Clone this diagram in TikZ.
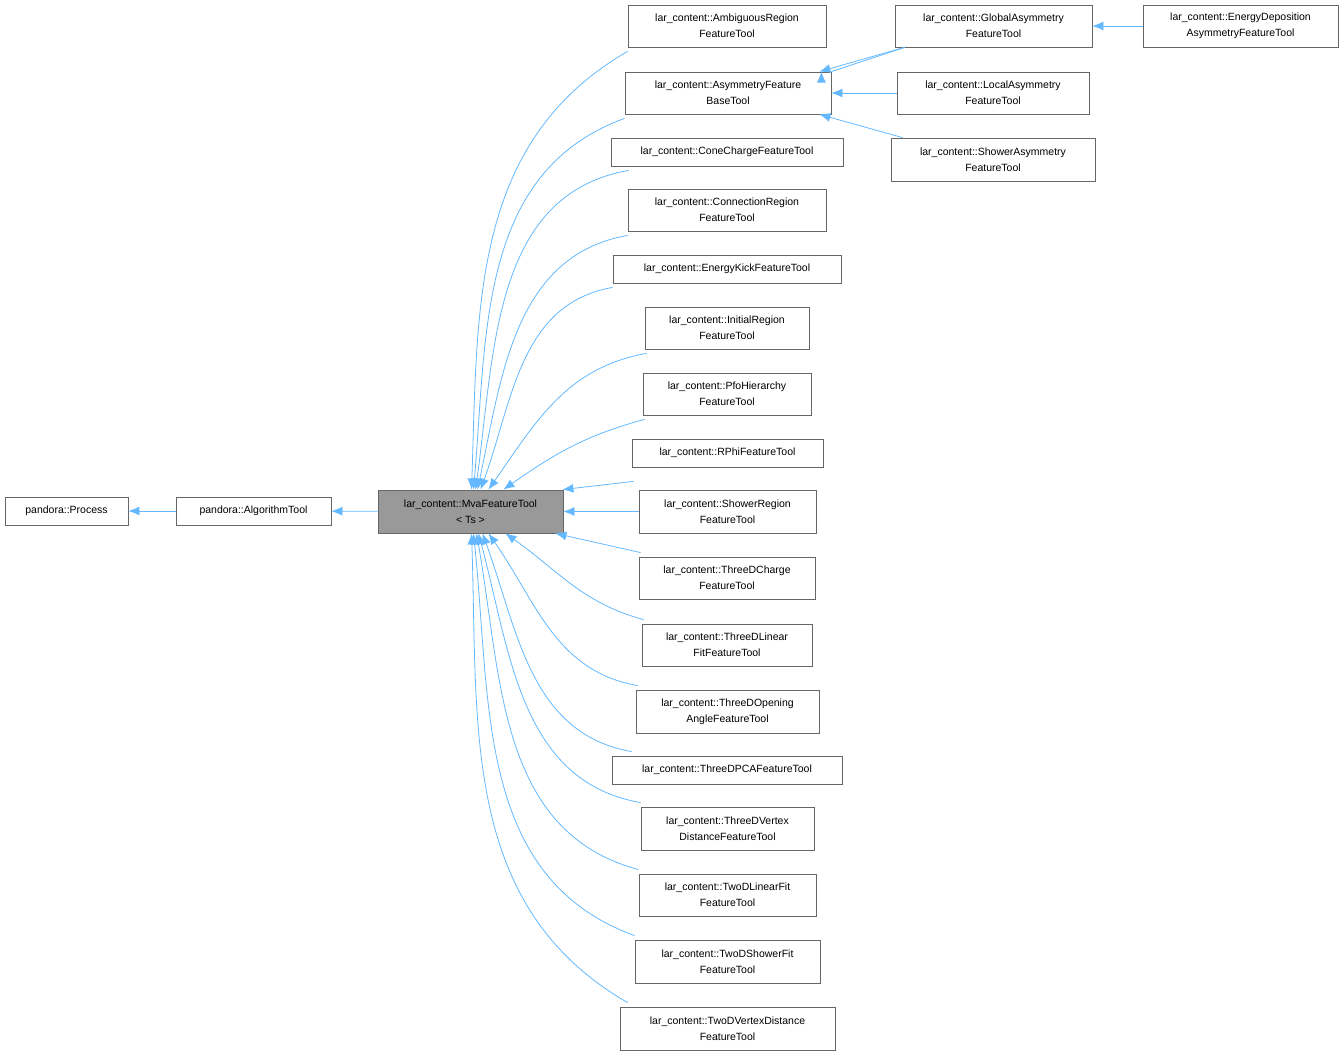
\documentclass[tikz,border=0pt]{standalone}
\usepackage{fontspec}
\setmainfont{Liberation Sans}
\usetikzlibrary{arrows.meta}
\definecolor{edgeblue}{HTML}{63B8FF}
\definecolor{boxline}{HTML}{666666}
\definecolor{mvafill}{HTML}{999999}
\begin{document}
\begin{tikzpicture}[x=1pt,y=-1pt,
  box/.style={draw=boxline,line width=0.8pt,fill=white,align=center,inner sep=0pt,font=\fontsize{10.5}{16}\selectfont,minimum height=42},
  sbox/.style={box,minimum height=28},
  edge/.style={draw=edgeblue,line width=0.8pt,-{Latex[length=11,width=9]}}]
\useasboundingbox (0,0) rectangle (1344,1056);
\node[sbox,minimum width=123] (proc) at (66.5,511) {pandora::Process};
\node[sbox,minimum width=155] (alg) at (253.5,511) {pandora::AlgorithmTool};
\node[box,minimum width=185,fill=mvafill,minimum height=43] (mva) at (470.5,511.5) {lar\_content::MvaFeatureTool\\\textless{} Ts \textgreater};
\node[box,minimum width=198] (amb) at (727,26) {lar\_content::AmbiguousRegion\\FeatureTool};
\node[box,minimum width=206] (asym) at (728,93) {lar\_content::AsymmetryFeature\\BaseTool};
\node[sbox,minimum width=232] (cone) at (727,152) {lar\_content::ConeChargeFeatureTool};
\node[box,minimum width=198] (conn) at (727,210) {lar\_content::ConnectionRegion\\FeatureTool};
\node[sbox,minimum width=228] (ekick) at (727,269) {lar\_content::EnergyKickFeatureTool};
\node[box,minimum width=164] (init) at (727,328) {lar\_content::InitialRegion\\FeatureTool};
\node[box,minimum width=168] (pfo) at (727,394) {lar\_content::PfoHierarchy\\FeatureTool};
\node[sbox,minimum width=191] (rphi) at (727.5,453) {lar\_content::RPhiFeatureTool};
\node[box,minimum width=177,minimum height=43] (shreg) at (727.5,511.5) {lar\_content::ShowerRegion\\FeatureTool};
\node[box,minimum width=176] (tdch) at (727,578) {lar\_content::ThreeDCharge\\FeatureTool};
\node[box,minimum width=170] (tdlin) at (727,645) {lar\_content::ThreeDLinear\\FitFeatureTool};
\node[box,minimum width=183,minimum height=43] (tdop) at (727.5,711.5) {lar\_content::ThreeDOpening\\AngleFeatureTool};
\node[sbox,minimum width=230] (tdpca) at (727,770) {lar\_content::ThreeDPCAFeatureTool};
\node[box,minimum width=173,minimum height=43] (tdvtx) at (727.5,828.5) {lar\_content::ThreeDVertex\\DistanceFeatureTool};
\node[box,minimum width=177] (twlin) at (727.5,895) {lar\_content::TwoDLinearFit\\FeatureTool};
\node[box,minimum width=185,minimum height=43] (twsh) at (727.5,961.5) {lar\_content::TwoDShowerFit\\FeatureTool};
\node[box,minimum width=215,minimum height=43] (twvtx) at (727.5,1028.5) {lar\_content::TwoDVertexDistance\\FeatureTool};
\node[box,minimum width=197] (glob) at (993.5,26) {lar\_content::GlobalAsymmetry\\FeatureTool};
\node[box,minimum width=192] (loc) at (993,93) {lar\_content::LocalAsymmetry\\FeatureTool};
\node[box,minimum width=204,minimum height=43] (shasym) at (993,159.5) {lar\_content::ShowerAsymmetry\\FeatureTool};
\node[box,minimum width=195] (edep) at (1240.5,26) {lar\_content::EnergyDeposition\\AsymmetryFeatureTool};
% straight edges
\draw[edge] (alg) -- (proc);
\draw[edge] (mva) -- (alg);
\draw[edge] (shreg) -- (mva);
\draw[edge] (edep) -- (glob);
\draw[edge] (loc) -- (asym);
\draw[edge] (glob.south west) ++(10,0) coordinate (g1) (g1) -- (asym.north east) ++(-10,0);
\draw[edge] (g1) -- ([xshift=-12]asym.north east);
\draw[edge] ([xshift=12]shasym.north west) -- ([xshift=-12]asym.south east);
\draw[edge] ([yshift=-14,xshift=2]rphi.south west) -- ([xshift=-1]mva.north east);
\draw[edge] ([yshift=-4,xshift=2]pfo.south west) to[out=195,in=35] ([xshift=-60]mva.north east);
\draw[edge] ([yshift=-4,xshift=2]init.south west) to[out=190,in=55] ([xshift=18]mva.north);
\draw[edge] ([yshift=4,xshift=2]tdch.north west) -- ([xshift=-8]mva.south east);
\draw[edge] ([yshift=4,xshift=2]tdlin.north west) to[out=165,in=-35] ([xshift=-58]mva.south east);
\draw[edge] ([yshift=4,xshift=2]tdop.north west) to[out=170,in=-55] ([xshift=18]mva.south);
% curved upper
\draw[edge] ([yshift=-4]ekick.south west) to[out=190,in=70] ([xshift=10]mva.north);
\draw[edge] ([yshift=-4]conn.south west) to[out=190,in=78] ([xshift=7]mva.north);
\draw[edge] ([yshift=-4,xshift=18]cone.south west) to[out=190,in=82] ([xshift=5]mva.north);
\draw[edge] ([yshift=-4]asym.south west) to[out=200,in=85] ([xshift=3]mva.north);
\draw[edge] ([yshift=-4]amb.south west) to[out=210,in=88] ([xshift=1]mva.north);
% curved lower
\draw[edge] ([yshift=4,xshift=20]tdpca.north west) to[out=170,in=-70] ([xshift=12]mva.south);
\draw[edge] ([yshift=4]tdvtx.north west) to[out=170,in=-75] ([xshift=8]mva.south);
\draw[edge] ([yshift=4]twlin.north west) to[out=165,in=-80] ([xshift=6]mva.south);
\draw[edge] ([yshift=4]twsh.north west) to[out=160,in=-84] ([xshift=3]mva.south);
\draw[edge] ([yshift=4,xshift=8]twvtx.north west) to[out=150,in=-88] ([xshift=1]mva.south);
\end{tikzpicture}
\end{document}
